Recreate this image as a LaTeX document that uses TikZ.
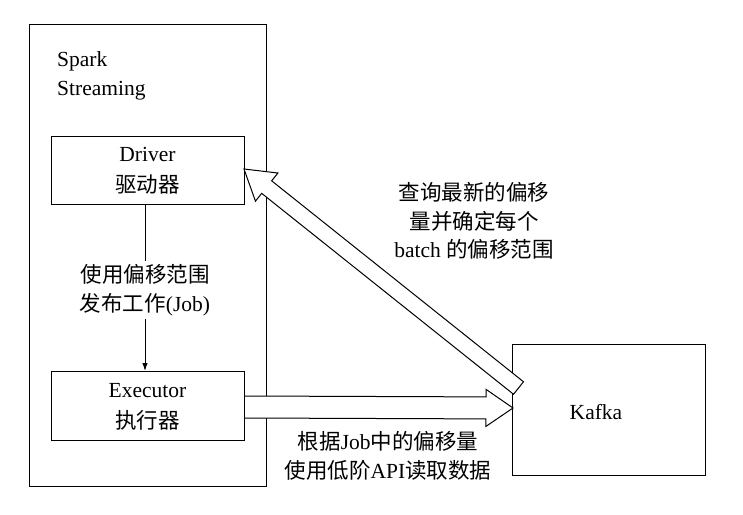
\documentclass[tikz,border=0pt]{standalone}
\usepackage{fontspec}
\setmainfont{Liberation Serif}
\newfontfamily\cjk{Noto Sans CJK SC}
\usetikzlibrary{calc,arrows.meta}
\tikzset{
  box/.style={draw, line width=1pt, fill=white, inner sep=0pt},
  txt/.style={font=\fontsize{21.5}{28.5}\selectfont, align=center, inner sep=0pt},
  boxtxt/.style={font=\fontsize{21.5}{31}\selectfont, align=center, inner sep=0pt},
  thin arrow/.style={line width=1pt, -{Latex[length=8pt,width=5.5pt]}},
  block/.style={draw, line width=1pt, fill=white, line join=miter}
}
\newcommand{\blockarrow}[5]{%
  % #1 tail, #2 tip, #3 half shaft width, #4 half head width, #5 head length
  \coordinate (hb) at ($(#2)!#5!(#1)$);
  \draw[block] ($(#1)!#3!90:(#2)$) -- ($(hb)!#3!90:(#2)$) -- ($(hb)!#4!90:(#2)$)
    -- (#2) -- ($(hb)!#4!-90:(#2)$) -- ($(hb)!#3!-90:(#2)$) -- ($(#1)!#3!-90:(#2)$) -- cycle;
}
\begin{document}
\begin{tikzpicture}[x=1pt,y=-1pt]
\useasboundingbox (0,0) rectangle (743,514);
% outer Spark Streaming box
\draw[line width=1pt] (29,24) rectangle (266,486);
\node[txt, anchor=west, align=left] (spark) at (57,76) {Spark\\Streaming};
% Kafka
\node[box, minimum width=193pt, minimum height=131pt] (kafka) at (608.5,409.5) {};
\node[txt] (kafkat) at (596,412) {Kafka};
% executor arrow to kafka
\coordinate (exR) at (244,407);
\coordinate (kfL) at (513,408);
\blockarrow{exR}{kfL}{11pt}{18.5pt}{27pt}
% Driver / Executor boxes
\node[box, minimum width=193pt, minimum height=68pt] (driver) at (147.5,170) {};
\node[boxtxt] at ([yshift=-1pt]driver.center) {Driver\\{\cjk 驱动器}};
\node[box, minimum width=193pt, minimum height=69pt] (executor) at (147.5,405.5) {};
\node[boxtxt] at ([yshift=-1pt]executor.center) {Executor\\{\cjk 执行器}};
% diagonal arrow from kafka to driver
\coordinate (kfT) at (518.5,388);
\coordinate (drR) at (244,169);
\blockarrow{kfT}{drR}{8pt}{18pt}{29pt}
% driver -> executor
\coordinate (dtop) at (145,204);
\coordinate (ebot) at (145,371);
\draw[thin arrow] (dtop) -- (ebot);
\node[txt, fill=white, inner ysep=3pt] (joblabel) at (145,290) {{\cjk 使用偏移范围}\\{\cjk 发布工作}(Job)};
% labels
\node[txt] (qlabel) at (474,221) {{\cjk 查询最新的偏移}\\{\cjk 量并确定每个}\\batch {\cjk 的偏移范围}};
\node[txt] (rlabel) at (388,456) {{\cjk 根据}Job{\cjk 中的偏移量}\\{\cjk 使用低阶}API{\cjk 读取数据}};
\end{tikzpicture}
\end{document}
